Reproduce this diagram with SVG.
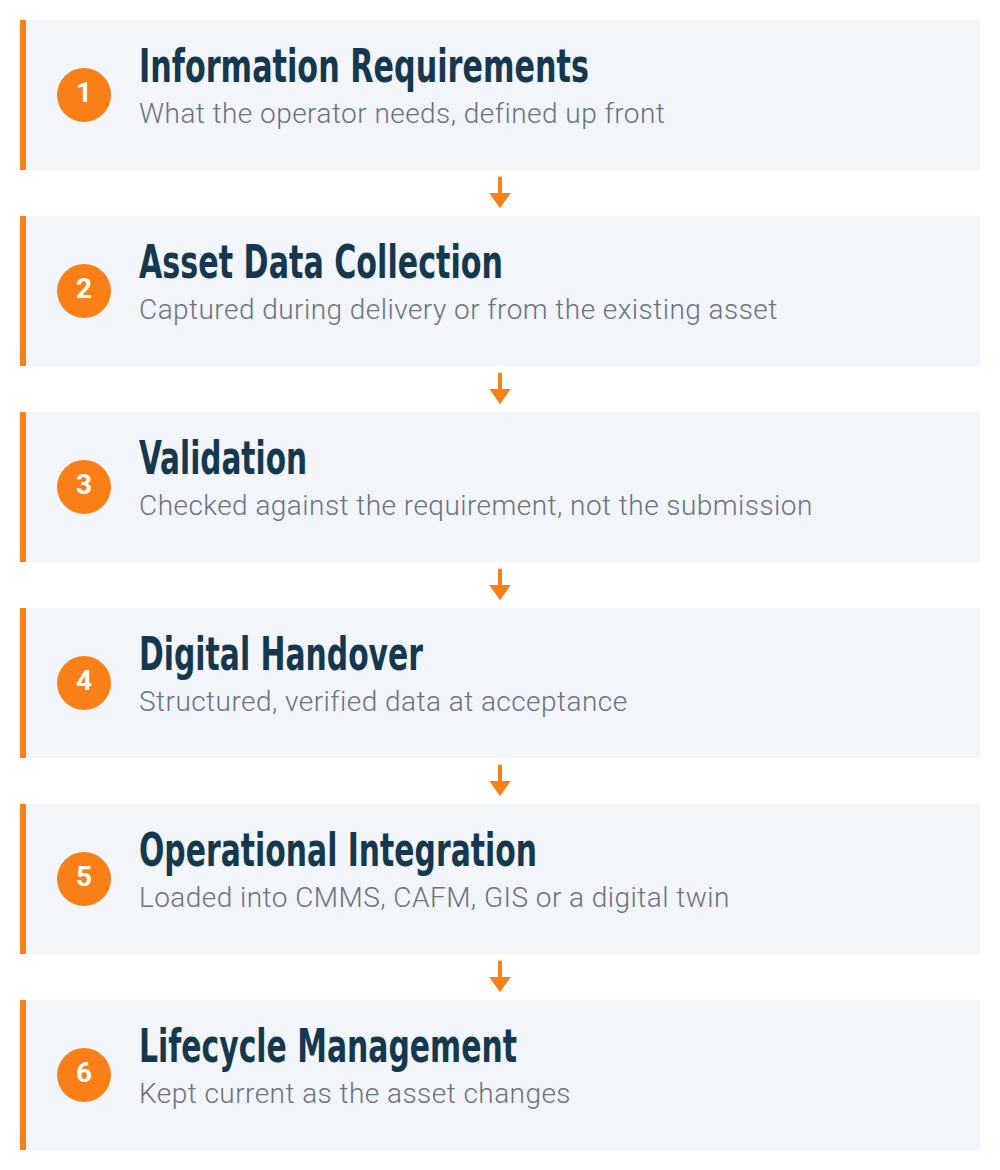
<svg xmlns="http://www.w3.org/2000/svg" width="1000" height="1170" viewBox="0 0 1000 1170">
<defs>
<style>
.card{fill:#f2f5f9}
.bar{fill:#f97f16}
.badge{fill:#f97f16}
.num{font-family:"Roboto","Liberation Sans",sans-serif;font-weight:700;font-size:28px;fill:#ffffff;text-anchor:middle}
.title{font-family:"Liberation Sans Narrow","DejaVu Sans Condensed","Liberation Sans",sans-serif;font-weight:700;font-size:47px;fill:#16384f}
.sub{font-family:"Roboto","Liberation Sans",sans-serif;font-weight:300;font-size:28px;letter-spacing:0.45px;fill:#6b7280}
.arrow{fill:#f97f16}
</style>
</defs>
<rect width="1000" height="1170" fill="#ffffff"/>

<g id="step1">
<rect class="card" x="20" y="20" width="960" height="150"/>
<rect class="bar" x="20" y="20" width="6" height="150"/>
<circle class="badge" cx="84" cy="95" r="27"/>
<text class="num" x="84" y="101.5">1</text>
<text class="title" x="139" y="81.7" textLength="450" lengthAdjust="spacingAndGlyphs">Information Requirements</text>
<text class="sub" x="139" y="123.3">What the operator needs, defined up front</text>
</g>

<g id="step2">
<rect class="card" x="20" y="216" width="960" height="150"/>
<rect class="bar" x="20" y="216" width="6" height="150"/>
<circle class="badge" cx="84" cy="291" r="27"/>
<text class="num" x="84" y="297.5">2</text>
<text class="title" x="139" y="277.7" textLength="364" lengthAdjust="spacingAndGlyphs">Asset Data Collection</text>
<text class="sub" x="139" y="319.3">Captured during delivery or from the existing asset</text>
</g>

<g id="step3">
<rect class="card" x="20" y="412" width="960" height="150"/>
<rect class="bar" x="20" y="412" width="6" height="150"/>
<circle class="badge" cx="84" cy="487" r="27"/>
<text class="num" x="84" y="493.5">3</text>
<text class="title" x="139" y="473.7" textLength="168" lengthAdjust="spacingAndGlyphs">Validation</text>
<text class="sub" x="139" y="515.3">Checked against the requirement, not the submission</text>
</g>

<g id="step4">
<rect class="card" x="20" y="608" width="960" height="150"/>
<rect class="bar" x="20" y="608" width="6" height="150"/>
<circle class="badge" cx="84" cy="683" r="27"/>
<text class="num" x="84" y="689.5">4</text>
<text class="title" x="139" y="669.7" textLength="284" lengthAdjust="spacingAndGlyphs">Digital Handover</text>
<text class="sub" x="139" y="711.3">Structured, verified data at acceptance</text>
</g>

<g id="step5">
<rect class="card" x="20" y="804" width="960" height="150"/>
<rect class="bar" x="20" y="804" width="6" height="150"/>
<circle class="badge" cx="84" cy="879" r="27"/>
<text class="num" x="84" y="885.5">5</text>
<text class="title" x="139" y="865.7" textLength="398" lengthAdjust="spacingAndGlyphs">Operational Integration</text>
<text class="sub" x="139" y="907.3">Loaded into CMMS, CAFM, GIS or a digital twin</text>
</g>

<g id="step6">
<rect class="card" x="20" y="1000" width="960" height="150"/>
<rect class="bar" x="20" y="1000" width="6" height="150"/>
<circle class="badge" cx="84" cy="1075" r="27"/>
<text class="num" x="84" y="1081.5">6</text>
<text class="title" x="139" y="1061.7" textLength="378" lengthAdjust="spacingAndGlyphs">Lifecycle Management</text>
<text class="sub" x="139" y="1103.3">Kept current as the asset changes</text>
</g>

<g id="connectors">
<g transform="translate(0,0)"><rect class="arrow" x="498" y="176.7" width="4" height="17"/><polygon class="arrow" points="489.3,193 510.7,193 500,208.3"/></g>
<g transform="translate(0,196)"><rect class="arrow" x="498" y="176.7" width="4" height="17"/><polygon class="arrow" points="489.3,193 510.7,193 500,208.3"/></g>
<g transform="translate(0,392)"><rect class="arrow" x="498" y="176.7" width="4" height="17"/><polygon class="arrow" points="489.3,193 510.7,193 500,208.3"/></g>
<g transform="translate(0,588)"><rect class="arrow" x="498" y="176.7" width="4" height="17"/><polygon class="arrow" points="489.3,193 510.7,193 500,208.3"/></g>
<g transform="translate(0,784)"><rect class="arrow" x="498" y="176.7" width="4" height="17"/><polygon class="arrow" points="489.3,193 510.7,193 500,208.3"/></g>
</g>
</svg>
